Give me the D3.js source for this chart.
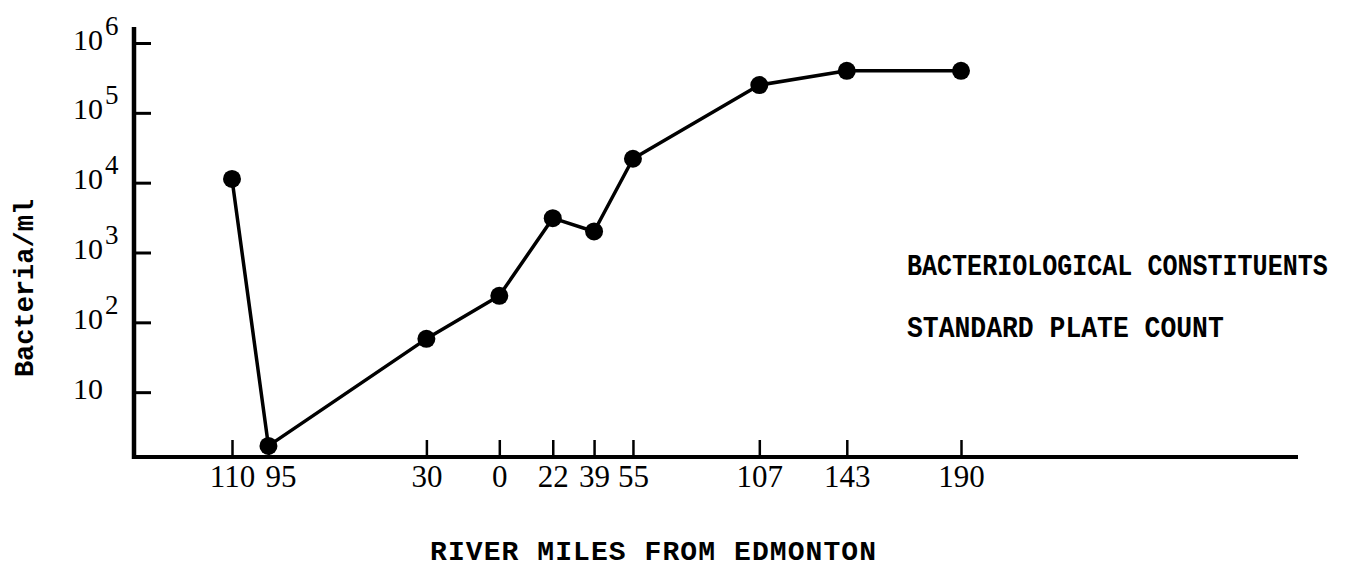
<!DOCTYPE html>
<meta charset='utf-8'>
<body style="margin:0;background:#fff">
<script src='https://d3js.org/d3.v7.min.js'></script>
<script>

    // river miles (upstream of Edmonton negative) and standard plate count
    var miles = [-110, -95, -30, 0, 22, 39, 55, 107, 143, 190];
    var counts = [11300, 1.7, 58, 240, 3100, 2000, 22000, 250000, 400000, 400000];
    var xTickLabels = ['110', '95', '30', '0', '22', '39', '55', '107', '143', '190'];
    var yTicks = [10, 100, 1000, 10000, 100000, 1000000];
    var yExponents = ['', '2', '3', '4', '5', '6'];

    var width = 1367, height = 569;
    var axisX = 134, axisY = 457;
    var mono = "'Liberation Mono', 'DejaVu Sans Mono', monospace";
    var serif = "'Liberation Serif', 'DejaVu Serif', serif";

    var svg = d3.select('body').append('svg')
        .attr('width', width)
        .attr('height', height)
        .style('display', 'block');

    var x = d3.scaleLinear().domain([-110, 190]).range([232, 961]);
    var y = d3.scaleLog().domain([1, 1000000]).range([462, 43]);

    // axis lines
    svg.append('line')
        .attr('x1', axisX).attr('x2', axisX)
        .attr('y1', 27).attr('y2', axisY + 2)
        .attr('stroke', '#000').attr('stroke-width', 4.5);
    svg.append('line')
        .attr('x1', axisX - 2).attr('x2', 1298)
        .attr('y1', axisY).attr('y2', axisY)
        .attr('stroke', '#000').attr('stroke-width', 4);

    // x axis: ticks point up, labels below
    var xAxis = svg.append('g')
        .attr('transform', 'translate(0,' + axisY + ')')
        .call(d3.axisBottom(x)
            .tickValues(miles)
            .tickSizeInner(-17)
            .tickSizeOuter(0)
            .tickPadding(8)
            .tickFormat(function(d, i) { return xTickLabels[i]; }));
    xAxis.select('.domain').remove();
    xAxis.selectAll('.tick line').attr('stroke', '#000').attr('stroke-width', 2.5);
    xAxis.selectAll('.tick text')
        .attr('fill', '#000')
        .style('font-family', serif)
        .style('font-size', '31px');
    // the "95" label sits a bit right of its tick, clear of "110"
    xAxis.selectAll('.tick text')
        .filter(function(d) { return d === -95; })
        .attr('dx', 12);

    // y axis: ticks point right, labels 10^n on the left
    var yAxis = svg.append('g')
        .attr('transform', 'translate(' + axisX + ',0)')
        .call(d3.axisLeft(y)
            .tickValues(yTicks)
            .tickSizeInner(-17)
            .tickSizeOuter(0)
            .tickFormat(''));
    yAxis.select('.domain').remove();
    yAxis.selectAll('.tick line').attr('stroke', '#000').attr('stroke-width', 3);
    yAxis.selectAll('.tick text').remove();

    yAxis.selectAll('.tick').each(function(d, i) {
        var t = d3.select(this).append('text')
            .attr('x', -61)
            .attr('y', 6)
            .attr('text-anchor', 'start')
            .attr('fill', '#000')
            .style('font-family', serif)
            .style('font-size', '30px');
        t.append('tspan').text('10');
        if (yExponents[i]) {
            t.append('tspan')
                .attr('dx', 2)
                .attr('dy', -15)
                .style('font-size', '27px')
                .text(yExponents[i]);
        }
    });

    // series
    var pts = miles.map(function(m, i) { return [m, counts[i]]; });

    svg.append('path')
        .datum(pts)
        .attr('fill', 'none')
        .attr('stroke', '#000')
        .attr('stroke-width', 3.5)
        .attr('stroke-linejoin', 'round')
        .attr('d', d3.line()
            .x(function(d) { return x(d[0]); })
            .y(function(d) { return y(d[1]); }));

    svg.selectAll('circle')
        .data(pts)
        .enter()
        .append('circle')
        .attr('cx', function(d) { return x(d[0]); })
        .attr('cy', function(d) { return y(d[1]); })
        .attr('r', 9)
        .attr('fill', '#000');

    // titles (typewriter text, squeezed horizontally like the original)
    svg.append('text')
        .attr('transform', 'translate(33,288) rotate(-90)')
        .attr('text-anchor', 'middle')
        .style('font-family', mono)
        .style('font-weight', 'bold')
        .style('font-size', '27px')
        .text('Bacteria/ml');

    svg.append('text')
        .attr('x', 430).attr('y', 560)
        .attr('textLength', 446)
        .attr('lengthAdjust', 'spacing')
        .style('font-family', mono)
        .style('font-weight', 'bold')
        .style('font-size', '28px')
        .text('RIVER MILES FROM EDMONTON');

    svg.append('text')
        .attr('transform', 'translate(907,275) scale(0.835,1)')
        .style('font-family', mono)
        .style('font-weight', 'bold')
        .style('font-size', '30px')
        .text('BACTERIOLOGICAL CONSTITUENTS');

    svg.append('text')
        .attr('transform', 'translate(907,337) scale(0.88,1)')
        .style('font-family', mono)
        .style('font-weight', 'bold')
        .style('font-size', '30px')
        .text('STANDARD PLATE COUNT');

</script>
</body>
